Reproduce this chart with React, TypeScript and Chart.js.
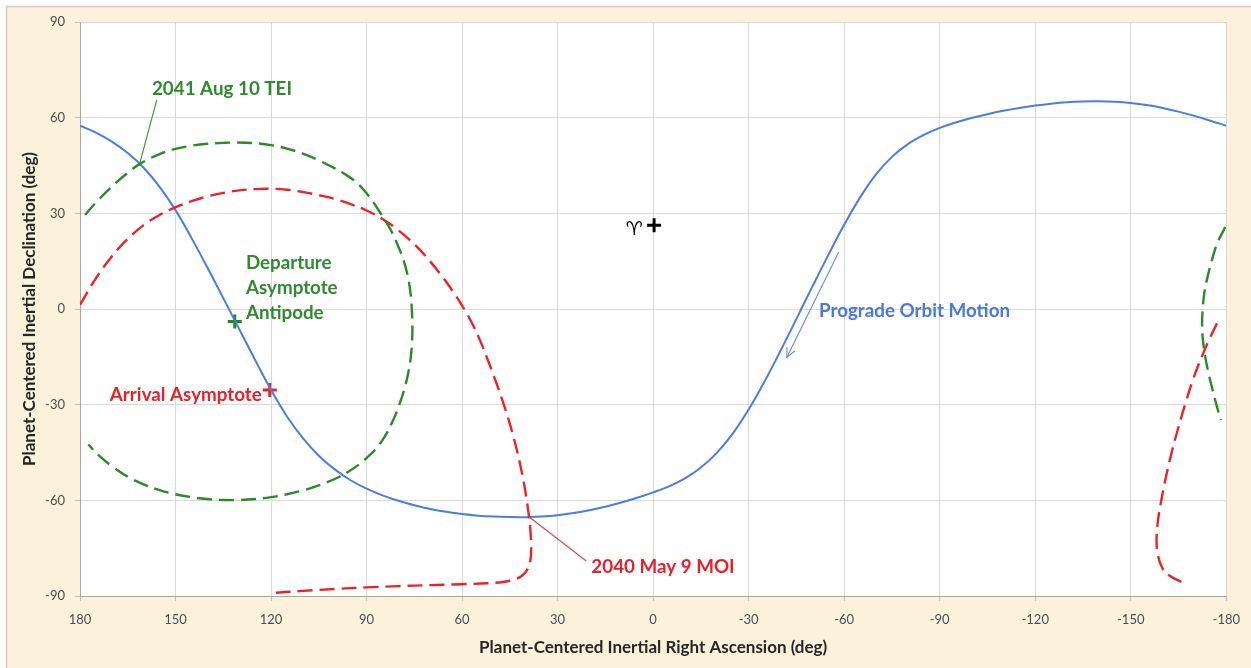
import React, { useEffect, useRef } from "react";
import { Chart, registerables } from "chart.js";

Chart.register(...registerables);

// ---- Data (Right Ascension / Declination, deg) ----
const orbitRA = [180, 175, 170, 165, 160, 155, 150, 145, 140, 135, 130, 125, 120, 115, 110, 105, 100, 95, 90, 85, 80, 75, 70, 65, 60, 55, 50, 45, 40, 35, 30, 25, 20, 15, 10, 5, 0, -5, -10, -15, -20, -25, -30, -35, -40, -45, -50, -55, -60, -65, -70, -75, -80, -85, -90, -95, -100, -105, -110, -115, -120, -125, -130, -135, -140, -145, -150, -155, -160, -165, -170, -175, -180];
const orbitDec = [57.5, 55.3, 52.5, 48.9, 44.3, 38.3, 31.0, 22.3, 13.0, 3.4, -6.3, -16.0, -25.4, -33.7, -40.5, -46.0, -50.3, -53.7, -56.35, -58.45, -60.15, -61.55, -62.7, -63.6, -64.3, -64.8, -65.1, -65.25, -65.27, -65.1, -64.7, -64.0, -63.1, -62.0, -60.7, -59.2, -57.5, -55.6, -53.1, -49.7, -45.1, -39.1, -31.5, -22.7, -13.1, -3.1, 7.0, 16.9, 26.4, 35.0, 42.2, 47.7, 51.7, 54.6, 56.8, 58.5, 59.9, 61.1, 62.15, 63.05, 63.8, 64.4, 64.85, 65.1, 65.15, 65.0, 64.6, 63.95, 63.05, 61.9, 60.55, 59.05, 57.45];

const depLeftRA = [178.4, 175, 170, 165, 161.2, 155, 150, 145, 140, 135, 131, 125, 120, 115, 110, 105, 100, 97, 93.8, 90.6, 87.9, 85.6, 82.9, 80.2, 78.3, 77.0, 76.2, 75.8, 75.6, 75.7, 76.1, 76.9, 78.1, 79.7, 81.7, 84.3, 87.2, 90.3, 92, 96, 100, 105, 110, 115, 120, 125, 130, 135, 140, 145, 150, 155, 160, 165, 170, 174, 177.4];
const depLeftDec = [29.5, 33.4, 38.4, 42.7, 45.5, 48.6, 50.2, 51.2, 51.8, 52.1, 52.2, 52.0, 51.4, 50.3, 48.7, 46.6, 44.1, 42.4, 40.2, 37, 33.5, 30, 25.7, 20, 15, 10, 5, 0, -5, -10, -15, -20, -25, -30, -35, -40, -44, -47, -48.5, -51.2, -53.3, -55.3, -56.9, -58.1, -59.0, -59.6, -59.9, -59.9, -59.6, -59.0, -58.1, -56.8, -55.0, -52.6, -49.3, -46.0, -42.5];

const depRightRA = [-179.7, -177.2, -175.4, -174.1, -173.1, -172.6, -172.4, -172.7, -173.4, -174.4, -175.6, -176.9, -178.3];
const depRightDec = [25.7, 20.7, 15, 10, 5, 0, -5, -10, -15, -20, -25, -30, -34.8];

const arrLeftRA = [180, 175, 170, 165, 160, 155, 150, 145, 140, 135, 130, 125, 120, 115, 110, 105, 100, 95, 90, 85, 80, 74.7, 70.1, 66.1, 62.55, 59.35, 56.6, 54.3, 52.3, 50.4, 48.6, 46.9, 45.3, 43.9, 42.6, 41.5, 40.5, 39.7, 39.0, 38.5, 38.3, 38.5, 39.4, 41.0, 43.5, 47, 52, 60, 70, 80, 90, 100, 110, 120.4];
const arrLeftDec = [1.3, 9.6, 16.5, 22.0, 26.3, 29.5, 31.9, 33.8, 35.3, 36.4, 37.2, 37.6, 37.7, 37.4, 36.7, 35.7, 34.5, 32.9, 30.9, 28.2, 24.7, 20, 15, 10, 5, 0, -5, -10, -15, -20, -25, -30, -35, -40, -45, -50, -55, -60, -65, -70, -74.6, -78.5, -81.5, -83.5, -84.8, -85.6, -86.0, -86.3, -86.6, -86.9, -87.3, -87.8, -88.4, -89.1];

const arrRightRA = [-165.9, -162.0, -159.8, -158.5, -158.1, -158.6, -159.6, -161.2, -162.8, -165.0, -167.2, -169.6, -172.3, -174.9, -177.9];
const arrRightDec = [-85.6, -83.5, -81, -77, -72.5, -66, -60, -52, -45.2, -37, -29.5, -22, -15, -9, -2.9];

// markers
const depMarkRA = [131.4];
const depMarkDec = [-3.9];
const arrMarkRA = [120.4];
const arrMarkDec = [-25.4];
const ariesMarkRA = [-0.3];
const ariesMarkDec = [26.3];

// annotation texts (anchored in data coordinates)
const noteTexts = ["2041 Aug 10 TEI", "Departure", "Asymptote", "Antipode", "Arrival Asymptote", "Prograde Orbit Motion", "2040 May 9 MOI"];
const noteRA = [157.4, 127.9, 127.9, 127.9, 122.9, -52.1, 19.4];
const noteDec = [69, 14.4, 6.6, -1.3, -27, -0.6, -80.8];
const noteAlign = ["left", "left", "left", "left", "right", "left", "left"];
const noteKind = ["green", "green", "green", "green", "red", "blue", "red"];

// leader lines [ra1, dec1, ra2, dec2]
const teiLeader = [155.9, 65.5, 161.2, 45.8];
const moiLeader = [38.9, -65.2, 21, -79];
const motionArrow = [-58.3, 17.9, -42.0, -15.1];

const ariesSymbol = "\u2648";
const ariesRA = [5.9];
const ariesDec = [24.8];

const xTitle = "Planet-Centered Inertial Right Ascension (deg)";
const yTitle = "Planet-Centered Inertial Declination (deg)";

const BLUE = "#4A7DE2";
const GREEN = "#2A8A2A";
const RED = "#EC2228";
const COLORS: Record<string, string> = { green: "#2E8B2E", red: "#E8202A", blue: "#4A78DC" };
const FONT = "Lato, 'Open Sans', sans-serif";

const pts = (xs: number[], ys: number[]) => xs.map((x, i) => ({ x, y: ys[i] }));

const bgPlugin = {
  id: "bgFrame",
  beforeDraw(chart: any) {
    const { ctx, width, height, chartArea } = chart;
    ctx.save();
    ctx.fillStyle = "#FFFFFF";
    ctx.fillRect(0, 0, width, height);
    ctx.fillStyle = "#FCF2DB";
    ctx.fillRect(6, 6, width - 6, height - 6);
    ctx.strokeStyle = "#CFCAC0";
    ctx.lineWidth = 1.5;
    ctx.beginPath();
    ctx.moveTo(6.5, height);
    ctx.lineTo(6.5, 6.5);
    ctx.lineTo(width, 6.5);
    ctx.stroke();
    ctx.fillStyle = "#FFFFFF";
    ctx.fillRect(chartArea.left, chartArea.top, chartArea.right - chartArea.left, chartArea.bottom - chartArea.top);
    ctx.restore();
  },
};

const notesPlugin = {
  id: "notes",
  afterDatasetsDraw(chart: any) {
    const { ctx } = chart;
    const xs = chart.scales.x;
    const ys = chart.scales.y;
    const px = (v: number) => xs.getPixelForValue(v);
    const py = (v: number) => ys.getPixelForValue(v);
    ctx.save();
    const line = (seg: number[], color: string, w: number) => {
      ctx.strokeStyle = color;
      ctx.lineWidth = w;
      ctx.beginPath();
      ctx.moveTo(px(seg[0]), py(seg[1]));
      ctx.lineTo(px(seg[2]), py(seg[3]));
      ctx.stroke();
    };
    line(teiLeader, "#3E9A3E", 1.2);
    line(moiLeader, "#C8505A", 1.2);
    line(motionArrow, "#6F90E0", 1.2);
    const x1 = px(motionArrow[0]), y1 = py(motionArrow[1]);
    const x2 = px(motionArrow[2]), y2 = py(motionArrow[3]);
    const ang = Math.atan2(y2 - y1, x2 - x1);
    const ah = 10;
    ctx.beginPath();
    ctx.moveTo(x2 - ah * Math.cos(ang - 0.45), y2 - ah * Math.sin(ang - 0.45));
    ctx.lineTo(x2, y2);
    ctx.lineTo(x2 - ah * Math.cos(ang + 0.45), y2 - ah * Math.sin(ang + 0.45));
    ctx.stroke();

    ctx.textBaseline = "middle";
    ctx.font = "bold 18.8px " + FONT;
    noteTexts.forEach((t, i) => {
      ctx.fillStyle = COLORS[noteKind[i]];
      ctx.textAlign = noteAlign[i];
      ctx.fillText(t, px(noteRA[i]), py(noteDec[i]));
    });
    ctx.fillStyle = "#000";
    ctx.textAlign = "center";
    ctx.font = "19px 'DejaVu Sans', serif";
    ctx.fillText(ariesSymbol, px(ariesRA[0]), py(ariesDec[0]));
    ctx.restore();
  },
};

export default function App() {
  const ref = useRef<HTMLCanvasElement | null>(null);
  useEffect(() => {
    if (!ref.current) return;
    const dashed = (data: any[], color: string) => ({
      data,
      showLine: true,
      borderColor: color,
      borderWidth: 2.4,
      borderDash: [15, 7],
      pointRadius: 0,
      tension: 0.4,
      fill: false,
    });
    const chart = new Chart(ref.current, {
      type: "scatter",
      data: {
        datasets: [
          dashed(pts(depLeftRA, depLeftDec), GREEN),
          dashed(pts(depRightRA, depRightDec), GREEN),
          dashed(pts(arrLeftRA, arrLeftDec), RED),
          dashed(pts(arrRightRA, arrRightDec), RED),
          {
            data: pts(orbitRA, orbitDec),
            showLine: true,
            borderColor: BLUE,
            borderWidth: 2,
            pointRadius: 0,
            tension: 0.4,
            fill: false,
          },
          { data: pts(depMarkRA, depMarkDec), pointStyle: "cross", pointRadius: 7, borderWidth: 3, borderColor: "#1E8A1E", showLine: false },
          { data: pts(arrMarkRA, arrMarkDec), pointStyle: "cross", pointRadius: 7, borderWidth: 3, borderColor: "#EE1C24", showLine: false },
          { data: pts(ariesMarkRA, ariesMarkDec), pointStyle: "cross", pointRadius: 7, borderWidth: 3, borderColor: "#000000", showLine: false },
        ] as any,
      },
      options: {
        animation: false,
        responsive: false,
        devicePixelRatio: 1,
        events: [],
        layout: { padding: { left: 0, right: 23, top: 22, bottom: 0 } },
        plugins: { legend: { display: false }, tooltip: { enabled: false } },
        scales: {
          x: {
            type: "linear",
            reverse: true,
            min: -180,
            max: 180,
            afterFit: (s: any) => { s.height = 72; },
            ticks: { stepSize: 30, autoSkip: false, maxRotation: 0, padding: 11, color: "#4D4D4D", font: { family: FONT, size: 13 } },
            grid: { color: "#D9D9D9", lineWidth: 1, tickLength: 5, tickColor: "#BFBFBF" },
            border: { color: "#A6A6A6", width: 1 },
            title: { display: true, text: xTitle, color: "#262626", font: { family: FONT, size: 17, weight: "bold" }, padding: { top: 0, bottom: 10 } },
          },
          y: {
            type: "linear",
            min: -90,
            max: 90,
            afterFit: (s: any) => { s.width = 80; },
            ticks: { stepSize: 30, autoSkip: false, padding: 10, color: "#4D4D4D", font: { family: FONT, size: 13 } },
            grid: { color: "#D9D9D9", lineWidth: 1, tickLength: 5, tickColor: "#BFBFBF" },
            border: { color: "#A6A6A6", width: 1 },
            title: { display: true, text: yTitle, color: "#262626", font: { family: FONT, size: 17, weight: "bold" }, padding: { top: 19, bottom: 0 } },
          },
        },
      } as any,
      plugins: [bgPlugin, notesPlugin],
    });
    return () => chart.destroy();
  }, []);
  return (
    <div style={{ position: "fixed", left: 0, top: 0, width: 1251, height: 668, background: "#fff" }}>
      <canvas ref={ref} width={1251} height={668} style={{ display: "block" }} />
    </div>
  );
}
